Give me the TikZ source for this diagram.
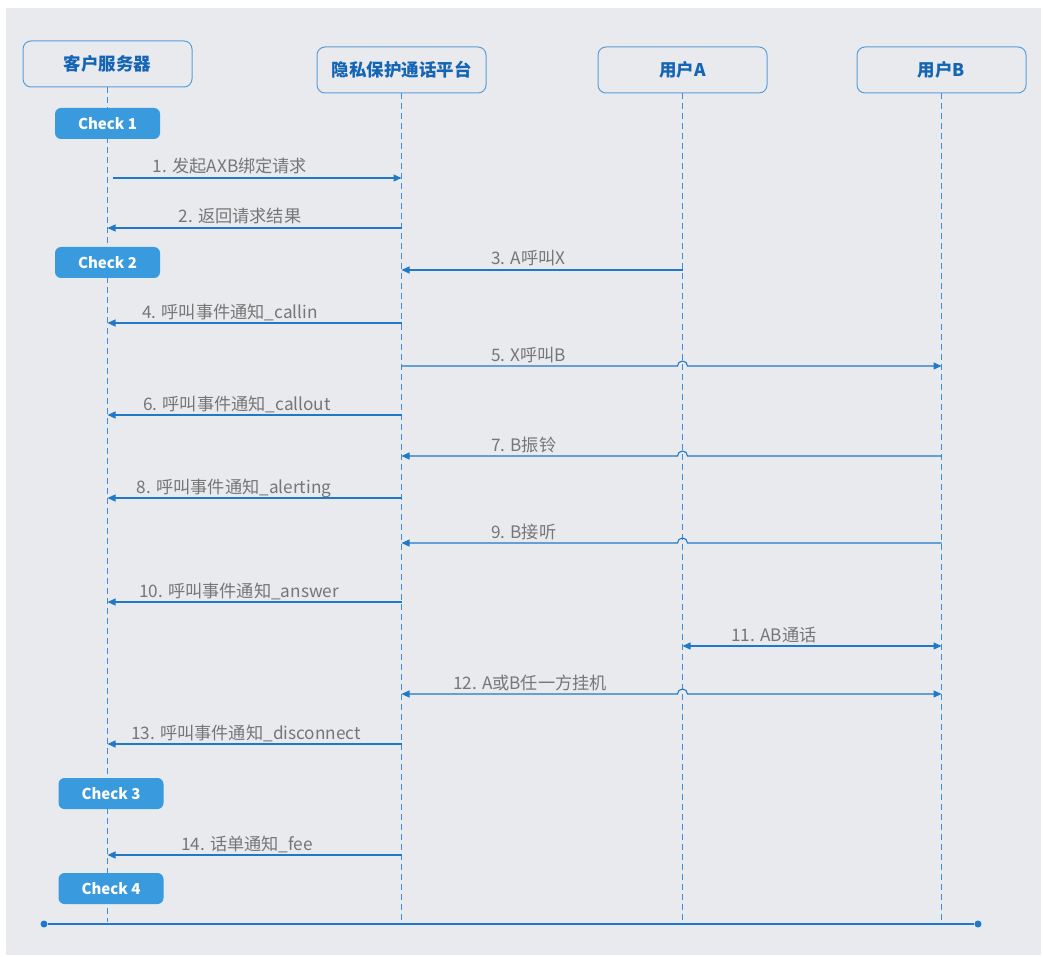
\documentclass[tikz,border=0pt]{standalone}
\usepackage{fontspec}
\setmainfont{Noto Sans CJK SC}
\usetikzlibrary{arrows.meta}
\definecolor{bg}{HTML}{E9EAEE}
\definecolor{boxline}{HTML}{5A9ED8}
\definecolor{headtxt}{HTML}{1565B5}
\definecolor{checkfill}{HTML}{3A9ADE}
\definecolor{msgline}{HTML}{1F78C8}
\definecolor{lifeline}{HTML}{3D8EDB}
\definecolor{lbltxt}{HTML}{767676}
\tikzset{
  actor/.style={draw=boxline, line width=1pt, rounded corners=8pt, fill=bg,
    minimum width=169pt, minimum height=46pt, text=headtxt,
    font=\fontsize{17.5}{20}\selectfont\bfseries},
  checkbox/.style={fill=checkfill, rounded corners=6pt, minimum width=105pt,
    minimum height=31pt, text=white, font=\fontsize{15}{18}\selectfont\bfseries},
  life/.style={draw=lifeline, line width=1pt, dash pattern=on 6pt off 4pt},
  msg/.style={draw=msgline, line width=1.1pt, -{Triangle[length=8pt,width=7pt]}},
  msgb/.style={draw=msgline, line width=1.1pt, {Triangle[length=8pt,width=7pt]}-{Triangle[length=8pt,width=7pt]}},
  lbl/.style={text=lbltxt, font=\fontsize{17.2}{19}\selectfont, inner sep=0pt, anchor=base},
  dotn/.style={circle, fill=msgline, inner sep=0pt, minimum size=7pt},
}
\begin{document}
\begin{tikzpicture}[x=1pt,y=-1pt]
\useasboundingbox (0,0) rectangle (1043,957);
\fill[white] (0,0) rectangle (1043,957);
\fill[bg] (6,8) rectangle (1041,955);

% actors
\node[actor] (cs) at (107.5,64) {客户服务器};
\node[actor] (pp) at (401.5,70) {隐私保护通话平台};
\node[actor] (ua) at (682.5,70) {用户A};
\node[actor] (ub) at (941.5,70) {用户B};

% lifelines
\draw[life] (cs.south) -- (cs |- 0,922);
\draw[life] (pp.south) -- (pp |- 0,922);
\draw[life] (ua.south) -- (ua |- 0,922);
\draw[life] (ub.south) -- (ub |- 0,922);

% checks
\node[checkbox] (c1) at (107.5,123.5) {Check 1};
\node[checkbox] (c2) at (107.5,262.5) {Check 2};
\node[checkbox] (c3) at (111,793.5) {Check 3};
\node[checkbox] (c4) at (111,888.5) {Check 4};

% messages
\draw[msg] ([xshift=5pt]cs |- 0,178) -- (pp |- 0,178);
\node[lbl] (l1) at (230,173) {1. 发起AXB绑定请求};

\draw[msg] (pp |- 0,228) -- (cs |- 0,228);
\node[lbl] (l2) at (240,223) {2. 返回请求结果};

\draw[msg] (ua |- 0,270) -- (pp |- 0,270);
\node[lbl, anchor=base west] (l3) at (491,265) {3. A呼叫X};

\draw[msg] (pp |- 0,323) -- (cs |- 0,323);
\node[lbl] (l4) at (230,318) {4. 呼叫事件通知\_callin};

\draw[msg] (pp |- 0,366) -- ([xshift=-5pt]ua |- 0,366) arc[start angle=180,end angle=0,radius=5pt] -- (ub |- 0,366);
\node[lbl, anchor=base west] (l5) at (491,361) {5. X呼叫B};

\draw[msg] (pp |- 0,415) -- (cs |- 0,415);
\node[lbl] (l6) at (237,410) {6. 呼叫事件通知\_callout};

\draw[msg] (ub |- 0,456) -- ([xshift=5pt]ua |- 0,456) arc[start angle=0,end angle=180,radius=5pt] -- (pp |- 0,456);
\node[lbl, anchor=base west] (l7) at (491,451) {7. B振铃};

\draw[msg] (pp |- 0,498) -- (cs |- 0,498);
\node[lbl] (l8) at (234,493) {8. 呼叫事件通知\_alerting};

\draw[msg] (ub |- 0,543) -- ([xshift=5pt]ua |- 0,543) arc[start angle=0,end angle=180,radius=5pt] -- (pp |- 0,543);
\node[lbl, anchor=base west] (l9) at (491,538) {9. B接听};

\draw[msg] (pp |- 0,602) -- (cs |- 0,602);
\node[lbl] (l10) at (239,597) {10. 呼叫事件通知\_answer};

\draw[msgb] (ua |- 0,646) -- (ub |- 0,646);
\node[lbl] (l11) at (774,641) {11. AB通话};

\draw[msgb] (pp |- 0,694) -- ([xshift=-5pt]ua |- 0,694) arc[start angle=180,end angle=0,radius=5pt] -- (ub |- 0,694);
\node[lbl] (l12) at (530,689) {12. A或B任一方挂机};

\draw[msg] (pp |- 0,744) -- (cs |- 0,744);
\node[lbl] (l13) at (246,739) {13. 呼叫事件通知\_disconnect};

\draw[msg] (pp |- 0,855) -- (cs |- 0,855);
\node[lbl] (l14) at (247,850) {14. 话单通知\_fee};

% bottom line
\node[dotn] (dl) at (44,924) {};
\node[dotn] (dr) at (978,924) {};
\draw[draw=msgline, line width=1.1pt] (dl) -- (dr);
\end{tikzpicture}
\end{document}
